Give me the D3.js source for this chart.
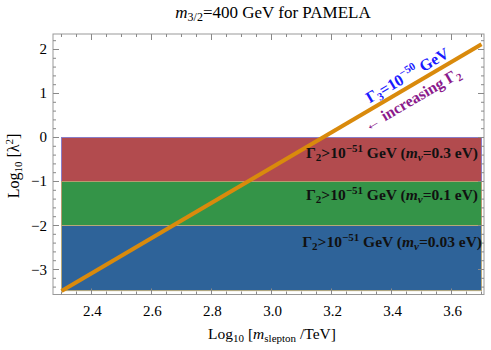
<!DOCTYPE html>
<html><head><meta charset="utf-8">
<script src="https://cdn.jsdelivr.net/npm/d3@7"></script>
<style>body{margin:0;background:#fff}svg{display:block;font-family:"Liberation Serif","DejaVu Serif",serif}</style>
</head><body><svg id="c" width="491" height="350"></svg>
<script>
const xTicks=[2.4,2.6,2.8,3.0,3.2,3.4,3.6];
const yTicks=[-3,-2,-1,0,1,2];
const bandTop=[0,-1,-2];
const bandBottom=[-1,-2,-3.48];
const bandColors=["#b24b4e","#349448","#2e6399"];
const bandStrokes=["#8a7cc6","#b89a70","#b8a878"];
const bandMnu=["0.3","0.1","0.03"];
const bandX=[2.3,3.7];
const lineX=[2.3,3.7];
const lineY=[-3.49,2.12];

const svg=d3.select("#c");
const L=53,T=34,R=484,B=294.5;
const x=d3.scaleLinear().domain([2.2717,3.7083]).range([L,R]);
const y=d3.scaleLinear().domain([-3.568,2.352]).range([B,T]);

const g=svg.append("g");
bandTop.forEach((t,i)=>{
  g.append("rect").attr("x",x(bandX[0])).attr("y",y(t)).attr("width",x(bandX[1])-x(bandX[0])).attr("height",y(bandBottom[i])-y(t))
   .attr("fill",bandColors[i]).attr("stroke",bandStrokes[i]).attr("stroke-width",1);
});

svg.append("path").datum(lineX.map((d,i)=>[d,lineY[i]]))
  .attr("d",d3.line().x(d=>x(d[0])).y(d=>y(d[1])))
  .attr("stroke","#d98a0c").attr("stroke-width",4).attr("fill","none");

svg.append("rect").attr("x",L).attr("y",T).attr("width",R-L).attr("height",B-T).attr("fill","none").attr("stroke","#999").attr("stroke-width",1);

const xMinor=d3.range(2.3,3.701,0.05);
const yMinor=d3.range(-3.4,2.201,0.2);
const tk=svg.append("g").attr("stroke","#888").attr("stroke-width",1);
xMinor.forEach(v=>{
  const major=xTicks.some(t=>Math.abs(t-v)<1e-6);
  const len=major?6:3;
  tk.append("line").attr("x1",x(v)).attr("x2",x(v)).attr("y1",B).attr("y2",B-len);
  tk.append("line").attr("x1",x(v)).attr("x2",x(v)).attr("y1",T).attr("y2",T+len);
});
yMinor.forEach(v=>{
  const major=yTicks.some(t=>Math.abs(t-v)<1e-6);
  const len=major?6:3;
  tk.append("line").attr("y1",y(v)).attr("y2",y(v)).attr("x1",L).attr("x2",L+len);
  tk.append("line").attr("y1",y(v)).attr("y2",y(v)).attr("x1",R).attr("x2",R-len);
});
svg.append("g").selectAll("text").data(xTicks).join("text")
  .attr("x",d=>x(d)+1).attr("y",B+21).attr("text-anchor","middle").attr("font-size",15).text(d=>d3.format(".1f")(d));
svg.append("g").selectAll("text").data(yTicks).join("text")
  .attr("x",L-6).attr("y",d=>y(d)+5).attr("text-anchor","end").attr("font-size",15).text(d=>d<0?"\u2212"+Math.abs(d):d);

const ti=svg.append("text").attr("x",273).attr("y",18).attr("text-anchor","middle").attr("font-size",17);
ti.append("tspan").attr("font-style","italic").text("m");
ti.append("tspan").attr("font-size",12).attr("dy",3).text("3/2");
ti.append("tspan").attr("dy",-3).text("=400 GeV for PAMELA");

const xl=svg.append("text").attr("x",272).attr("y",339).attr("text-anchor","middle").attr("font-size",15.5);
xl.append("tspan").text("Log");
xl.append("tspan").attr("font-size",11).attr("dy",3).text("10");
xl.append("tspan").attr("dy",-3).text(" [");
xl.append("tspan").attr("font-style","italic").text("m");
xl.append("tspan").attr("font-size",11).attr("dy",3).text("slepton");
xl.append("tspan").attr("dy",-3).text(" /TeV]");

const yl=svg.append("text").attr("transform","translate(19,166) rotate(-90)").attr("text-anchor","middle").attr("font-size",16);
yl.append("tspan").text("Log");
yl.append("tspan").attr("font-size",11).attr("dy",3).text("10");
yl.append("tspan").attr("dy",-3).text(" [\u03BB");
yl.append("tspan").attr("font-size",11).attr("dy",-6).text("2");
yl.append("tspan").attr("dy",6).text("]");

const bandLabelY=[158,200,246.5];
const bandLabelX=[478,478,482];
bandMnu.forEach((m,i)=>{
  const t=svg.append("text").attr("x",bandLabelX[i]).attr("y",bandLabelY[i]).attr("text-anchor","end").attr("font-size",15.5).attr("font-weight","bold").attr("fill","#111");
  t.append("tspan").text("\u0393");
  t.append("tspan").attr("font-size",11).attr("dy",3).text("2");
  t.append("tspan").attr("dy",-3).text(">10");
  t.append("tspan").attr("font-size",11).attr("dy",-6).text("\u221251");
  t.append("tspan").attr("dy",6).text(" GeV (");
  t.append("tspan").attr("font-style","italic").text("m");
  t.append("tspan").attr("font-size",11).attr("font-style","italic").attr("dy",3).text("\u03BD");
  t.append("tspan").attr("dy",-3).text("="+m+" eV)");
});

const ang=-30.4;
const a1=svg.append("text").attr("transform",`translate(410,80) rotate(${ang})`).attr("text-anchor","middle").attr("font-size",16).attr("font-weight","bold").attr("fill","#1a1aff");
a1.append("tspan").text("\u0393");
a1.append("tspan").attr("font-size",11).attr("dy",3).text("3");
a1.append("tspan").attr("dy",-3).text("=10");
a1.append("tspan").attr("font-size",11).attr("dy",-7).text("\u221250");
a1.append("tspan").attr("dy",7).text(" GeV");
const a2=svg.append("text").attr("transform",`translate(415,104) rotate(${ang})`).attr("text-anchor","middle").attr("font-size",16).attr("font-weight","bold").attr("fill","#8b1a8b");
a2.append("tspan").text("\u2190 increasing \u0393");
a2.append("tspan").attr("font-size",11).attr("dy",3).text("2");
</script></body></html>
